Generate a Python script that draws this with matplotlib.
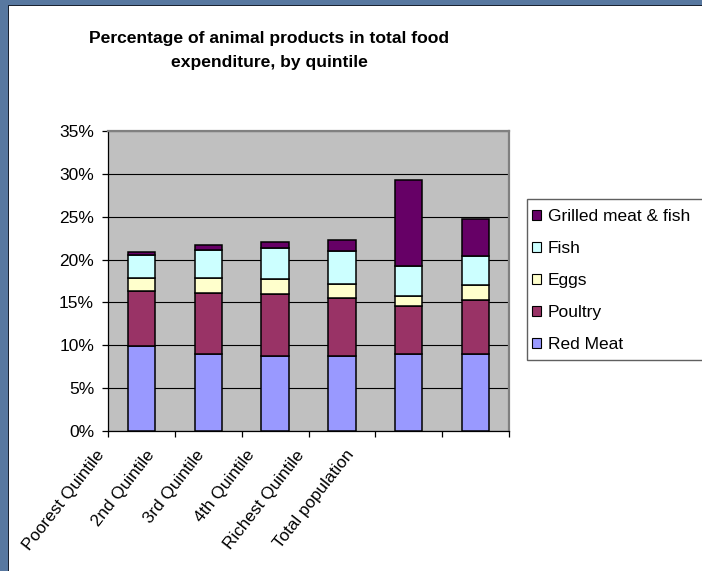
import matplotlib
matplotlib.use("Agg")
import matplotlib.pyplot as plt
import numpy as np
from matplotlib.patches import Patch, Rectangle
from matplotlib.ticker import FuncFormatter, MultipleLocator

# Share of each animal product in total food expenditure (%)
groups = ['Poorest Quintile', '2nd Quintile', '3rd Quintile', '4th Quintile',
          'Richest Quintile', 'Total population']
red_meat = [9.9, 9.0, 8.75, 8.75, 9.0, 9.0]
poultry = [6.4, 7.1, 7.2, 6.8, 5.6, 6.3]
eggs = [1.6, 1.8, 1.75, 1.6, 1.2, 1.7]
fish = [2.6, 3.2, 3.6, 3.8, 3.4, 3.4]
grilled = [0.4, 0.6, 0.8, 1.35, 10.1, 4.35]

series = [
    ('Red Meat', red_meat, '#9999FF'),
    ('Poultry', poultry, '#993366'),
    ('Eggs', eggs, '#FFFFCC'),
    ('Fish', fish, '#CCFFFF'),
    ('Grilled meat & fish', grilled, '#660066'),
]

plt.rcParams['font.family'] = ['Liberation Sans', 'DejaVu Sans']

W, H = 702, 571
fig = plt.figure(figsize=(W / 100, H / 100), dpi=100)
fig.patch.set_facecolor('#5878a0')

# white chart area with a thin dark edge on the top/left
fig.patches.append(Rectangle((7.5 / W, 0), 1, 1 - 4.5 / H, transform=fig.transFigure,
                             facecolor='#1a2230', edgecolor='none', zorder=-2))
fig.patches.append(Rectangle((9 / W, 0), 1, 1 - 6 / H, transform=fig.transFigure,
                             facecolor='white', edgecolor='none', zorder=-1))

ax = fig.add_axes([108 / W, 1 - 431 / H, 401 / W, 300 / H])
ax.set_facecolor('#C0C0C0')

x = np.arange(len(groups))
bottom = np.zeros(len(groups))
handles = []
for name, vals, color in series:
    ax.bar(x, vals, width=0.41, bottom=bottom, color=color,
           edgecolor='black', linewidth=1.1, zorder=3)
    bottom += np.array(vals)
    handles.append(Patch(facecolor=color, edgecolor='black', linewidth=0.8, label=name))

ax.set_xlim(-0.5, len(groups) - 0.5)
ax.set_ylim(0, 35)
ax.yaxis.set_major_locator(MultipleLocator(5))
ax.yaxis.set_major_formatter(FuncFormatter(lambda v, p: f'{v:.0f}%'))
ax.grid(axis='y', color='black', linewidth=0.8, zorder=1)

for side in ['top', 'right']:
    ax.spines[side].set_color('#808080')
    ax.spines[side].set_linewidth(1.6)
ax.spines['left'].set_linewidth(0.9)
ax.spines['bottom'].set_linewidth(0.9)

# ticks sit between the categories
ax.set_xticks(np.arange(-0.5, len(groups), 1.0))
ax.set_xticklabels([])
ax.tick_params(axis='x', length=4, width=0.9, direction='out')
ax.tick_params(axis='y', length=4, width=0.9, direction='out', pad=6, labelsize=12.5)

# rotated category labels, packed a little tighter than the bars
for i, label in enumerate(groups):
    ax.text(-0.69 + 0.748 * i, -0.055, label, transform=ax.get_xaxis_transform(),
            rotation=52, rotation_mode='anchor', ha='right', va='top', fontsize=12.3)

fig.text(269 / W, 1 - 50 / H,
         'Percentage of animal products in total food\nexpenditure, by quintile',
         ha='center', va='center', fontsize=12.6, fontweight='bold', linespacing=1.75)

# legend box runs off the right edge
fig.patches.append(Rectangle((527 / W, 1 - 360 / H), 200 / W, 161 / H,
                             transform=fig.transFigure, facecolor='white',
                             edgecolor='#606060', linewidth=1.0, zorder=1))
leg = fig.legend(handles=handles[::-1], loc='upper left',
                 bbox_to_anchor=(525 / W, 1 - 202 / H), frameon=False,
                 fontsize=12.5, handlelength=0.55, handleheight=0.55,
                 handletextpad=0.35, labelspacing=0.98, borderaxespad=0)

fig.savefig('out.png', dpi=100, facecolor=fig.get_facecolor())
